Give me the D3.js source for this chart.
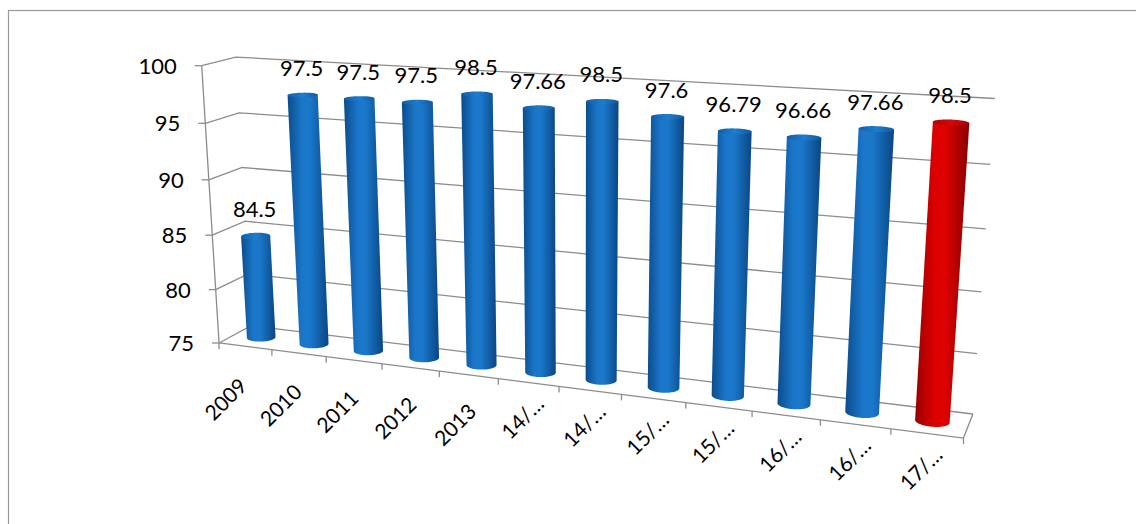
<!DOCTYPE html>
<html>
<head>
<meta charset="utf-8">
<script src="https://cdn.jsdelivr.net/npm/d3@7"></script>
<style>
  html, body { margin: 0; padding: 0; background: #fff; }
  svg { display: block; font-family: Lato, "Open Sans", sans-serif; }
</style>
</head>
<body>
<svg id="chart" width="1136" height="524"></svg>
<script>
const categories = ["2009", "2010", "2011", "2012", "2013", "14/…", "14/…", "15/…", "15/…", "16/…", "16/…", "17/…"];
const values = [84.5, 97.5, 97.5, 97.5, 98.5, 97.66, 98.5, 97.6, 96.79, 96.66, 97.66, 98.5];
const valueLabels = ["84.5", "97.5", "97.5", "97.5", "98.5", "97.66", "98.5", "97.6", "96.79", "96.66", "97.66", "98.5"];
const highlighted = [11]; // last bar drawn in red
const yTicks = [75, 80, 85, 90, 95, 100];

// 3D frame: X = category units (0..12), Y = 0..1 (value axis), Z = 0 front .. 1 back
// anchor points of the box as they sit on screen, used to fit a perspective camera
const frameAnchors = [
  [0, 0, 0, 220, 341.5], [0, 1, 0, 200.7, 65.5], [0, 1, 1, 236.7, 57.3], [0, 0, 1, 249, 327],
  [12, 1, 1, 995, 99], [12, 0, 1, 973.3, 412.3], [12, 0, 0, 963.3, 439], [6, 0, 0, 559.3, 387],
  [7, 0, 0, 621, 395], [12, 0.8, 1, 990, 164], [0, 0.8, 0, 204, 123.3], [0, 0.8, 1, 240, 112.7],
  [0, 0.2, 0, 217.3, 289.3]
];

function solve(A, b) {
  const n = b.length;
  const M = A.map((r, i) => [...r, b[i]]);
  for (let c = 0; c < n; c++) {
    let p = c;
    for (let r = c + 1; r < n; r++) if (Math.abs(M[r][c]) > Math.abs(M[p][c])) p = r;
    [M[c], M[p]] = [M[p], M[c]];
    for (let r = 0; r < n; r++) {
      if (r === c) continue;
      const f = M[r][c] / M[c][c];
      for (let k = c; k <= n; k++) M[r][k] -= f * M[c][k];
    }
  }
  return M.map((r, i) => r[n] / r[i]);
}

function fitCamera(pts) {
  const rows = [], rhs = [];
  pts.forEach(([X, Y, Z, u, v]) => {
    rows.push([X, Y, Z, 1, 0, 0, 0, 0, -u * X, -u * Y, -u * Z]); rhs.push(u);
    rows.push([0, 0, 0, 0, X, Y, Z, 1, -v * X, -v * Y, -v * Z]); rhs.push(v);
  });
  const AtA = d3.range(11).map(i => d3.range(11).map(j => d3.sum(rows, r => r[i] * r[j])));
  const Atb = d3.range(11).map(i => d3.sum(rows, (r, k) => r[i] * rhs[k]));
  return solve(AtA, Atb);
}

const m = fitCamera(frameAnchors);
function proj(X, Y, Z) {
  const w = m[8] * X + m[9] * Y + m[10] * Z + 1;
  return [(m[0] * X + m[1] * Y + m[2] * Z + m[3]) / w, (m[4] * X + m[5] * Y + m[6] * Z + m[7]) / w];
}

const x = d3.scaleBand().domain(d3.range(categories.length)).range([0, 12]).paddingInner(0.52).paddingOuter(0.26);
const y = d3.scaleLinear().domain([75, 100]).range([0, 1]);

const svg = d3.select("#chart");
const line = d3.line();
const gridColor = "#8c8c8c";

// outer chart border
svg.append("rect").attr("x", 8.5).attr("y", 10.5).attr("width", 1200).attr("height", 600)
  .attr("fill", "none").attr("stroke", "#999").attr("stroke-width", 1.2);

const defs = svg.append("defs");
function bodyGradient(id, stops) {
  const g = defs.append("linearGradient").attr("id", id).attr("x1", 0).attr("x2", 1).attr("y1", 0).attr("y2", 0);
  stops.forEach(([o, c]) => g.append("stop").attr("offset", o).attr("stop-color", c));
}
bodyGradient("blueBody", [[0, "#0b4c8c"], [0.35, "#1a76c8"], [0.55, "#1a78cb"], [1, "#0a4683"]]);
bodyGradient("blueCap", [[0, "#115ea8"], [0.5, "#1f7ccc"], [1, "#0f5aa2"]]);
bodyGradient("redBody", [[0, "#990000"], [0.35, "#dc0000"], [0.55, "#de0202"], [1, "#880000"]]);
bodyGradient("redCap", [[0, "#b00000"], [0.5, "#d20a0a"], [1, "#a80000"]]);

const grid = svg.append("g").attr("stroke", gridColor).attr("stroke-width", 1.3).attr("fill", "none");

yTicks.forEach(t => {
  const yy = y(t);
  grid.append("path").attr("d", line([proj(0, yy, 0), proj(0, yy, 1), proj(12, yy, 1)]));
  const a = proj(0, yy, 0);
  grid.append("path").attr("d", line([[a[0] - 7, a[1]], a]));
});
// floor edges and value axis
grid.append("path").attr("d", line([proj(0, 0, 0), proj(12, 0, 0), proj(12, 0, 1)]));
grid.append("path").attr("d", line([proj(0, 1, 0), proj(0, 0, 0)]));
d3.range(0, 13).forEach(k => {
  const p = proj(k, 0, 0);
  grid.append("path").attr("d", line([p, [p[0], p[1] + 6]]));
});

// y labels
svg.append("g").selectAll("text").data(yTicks).join("text")
  .attr("x", d => proj(0, y(d), 0)[0] - 25)
  .attr("y", d => proj(0, y(d), 0)[1] + 8)
  .attr("text-anchor", "end").attr("font-size", 22).attr("fill", "#000")
  .text(d => d);

// cylinders
const rz = 0.22, zc = 0.5, steps = 72;
function walk(pts, from, to, via) {
  const n = pts.length;
  for (const dir of [1, -1]) {
    const out = [];
    let i = from, hit = false;
    while (true) {
      out.push(pts[i]);
      if (i === via) hit = true;
      if (i === to) break;
      i = (i + dir + n) % n;
    }
    if (hit) return out;
  }
}

const bars = svg.append("g");
values.forEach((v, i) => {
  const xc = x(i) + x.bandwidth() / 2, rx = x.bandwidth() / 2;
  const red = highlighted.includes(i);
  const ring = yy => d3.range(steps).map(k => {
    const a = 2 * Math.PI * k / steps;
    return proj(xc + rx * Math.cos(a), yy, zc + rz * Math.sin(a));
  });
  const bot = ring(0), top = ring(y(v));
  const lb = d3.minIndex(bot, p => p[0]), rb = d3.maxIndex(bot, p => p[0]);
  const lt = d3.minIndex(top, p => p[0]), rt = d3.maxIndex(top, p => p[0]);
  const front = Math.round(steps * 3 / 4);
  const body = [top[lt], top[rt], ...walk(bot, rb, lb, front)];
  bars.append("path").attr("d", line(body) + "Z").attr("fill", `url(#${red ? "redBody" : "blueBody"})`);
  bars.append("path").attr("d", line(top) + "Z").attr("fill", `url(#${red ? "redCap" : "blueCap"})`);

  const t = proj(xc, y(v), zc);
  bars.append("text").attr("x", t[0] - 1).attr("y", t[1] - 19)
    .attr("text-anchor", "middle").attr("font-size", 22).attr("fill", "#000")
    .text(valueLabels[i]);

  // truncated labels sit closer to the axis than the full year labels
  const f = proj(xc, 0, 0);
  const shift = categories[i].includes("…") ? [17, 23] : [3 + 1.5 * i, 41 - 0.75 * i];
  bars.append("text")
    .attr("transform", `translate(${f[0] + shift[0]},${f[1] + shift[1]}) rotate(-45)`)
    .attr("text-anchor", "end").attr("font-size", 21).attr("fill", "#000")
    .text(categories[i]);
});
</script>
</body>
</html>
